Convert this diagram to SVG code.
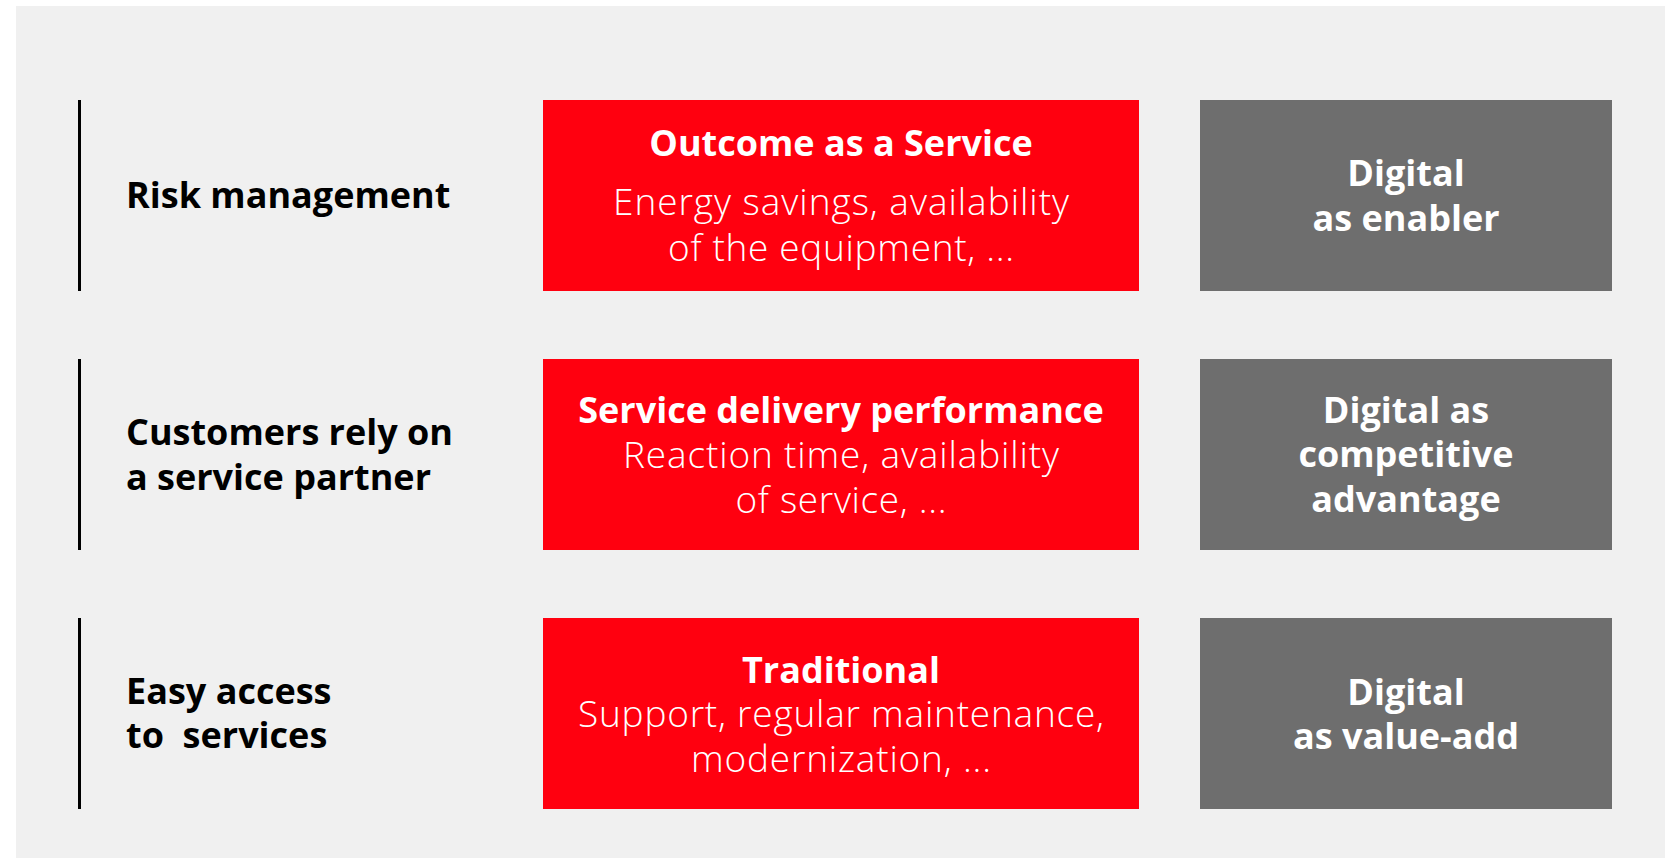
<svg xmlns="http://www.w3.org/2000/svg" width="1673" height="858" viewBox="0 0 1673 858">
  <style>
    .bg { fill: #f0f0f0; }
    .bar { fill: #000000; }
    .red { fill: #ff000f; }
    .grey { fill: #6e6e6e; }
    .label { font-family: "Open Sans", "Liberation Sans", sans-serif; font-weight: 700; font-size: 36px; fill: #000000; white-space: pre; }
    .title { font-family: "Open Sans", "Liberation Sans", sans-serif; font-weight: 700; font-size: 36px; fill: #ffffff; text-anchor: middle; }
    .sub { font-family: "Open Sans", "Liberation Sans", sans-serif; font-weight: 300; font-size: 37px; fill: #ffffff; text-anchor: middle; }
  </style>

  <rect class="bg" x="16" y="6" width="1649" height="852"/>

  <!-- Row 1 -->
  <g id="risk-management">
    <rect class="bar" x="78" y="100" width="3" height="191"/>
    <text class="label" x="126" y="208">Risk management</text>
  </g>
  <g id="outcome-as-a-service">
    <rect class="red" x="543" y="100" width="596" height="191"/>
    <text class="title" x="841" y="156">Outcome as a Service</text>
    <text class="sub" x="841" y="215" textLength="456" lengthAdjust="spacing">Energy savings, availability</text>
    <text class="sub" x="841" y="261" textLength="346" lengthAdjust="spacing">of the equipment, ...</text>
  </g>
  <g id="digital-enabler">
    <rect class="grey" x="1200" y="100" width="412" height="191"/>
    <text class="title" x="1406" y="186">Digital</text>
    <text class="title" x="1406" y="231">as enabler</text>
  </g>

  <!-- Row 2 -->
  <g id="service-partner">
    <rect class="bar" x="78" y="359" width="3" height="191"/>
    <text class="label" x="126" y="445">Customers rely on</text>
    <text class="label" x="126" y="490">a service partner</text>
  </g>
  <g id="service-delivery">
    <rect class="red" x="543" y="359" width="596" height="191"/>
    <text class="title" x="841" y="423">Service delivery performance</text>
    <text class="sub" x="841" y="468" textLength="436" lengthAdjust="spacing">Reaction time, availability</text>
    <text class="sub" x="841" y="513" textLength="211" lengthAdjust="spacing">of service, ...</text>
  </g>
  <g id="digital-advantage">
    <rect class="grey" x="1200" y="359" width="412" height="191"/>
    <text class="title" x="1406" y="423">Digital as</text>
    <text class="title" x="1406" y="467">competitive</text>
    <text class="title" x="1406" y="512">advantage</text>
  </g>

  <!-- Row 3 -->
  <g id="easy-access">
    <rect class="bar" x="78" y="618" width="3" height="191"/>
    <text class="label" x="126" y="704">Easy access</text>
    <text class="label" x="126" y="748">to  services</text>
  </g>
  <g id="traditional">
    <rect class="red" x="543" y="618" width="596" height="191"/>
    <text class="title" x="841" y="683">Traditional</text>
    <text class="sub" x="841" y="727" textLength="526" lengthAdjust="spacing">Support, regular maintenance,</text>
    <text class="sub" x="841" y="772" textLength="300" lengthAdjust="spacing">modernization, ...</text>
  </g>
  <g id="digital-value-add">
    <rect class="grey" x="1200" y="618" width="412" height="191"/>
    <text class="title" x="1406" y="705">Digital</text>
    <text class="title" x="1406" y="749">as value-add</text>
  </g>

  <!-- no connectors in this layout -->
  <g id="connectors"/>
</svg>
